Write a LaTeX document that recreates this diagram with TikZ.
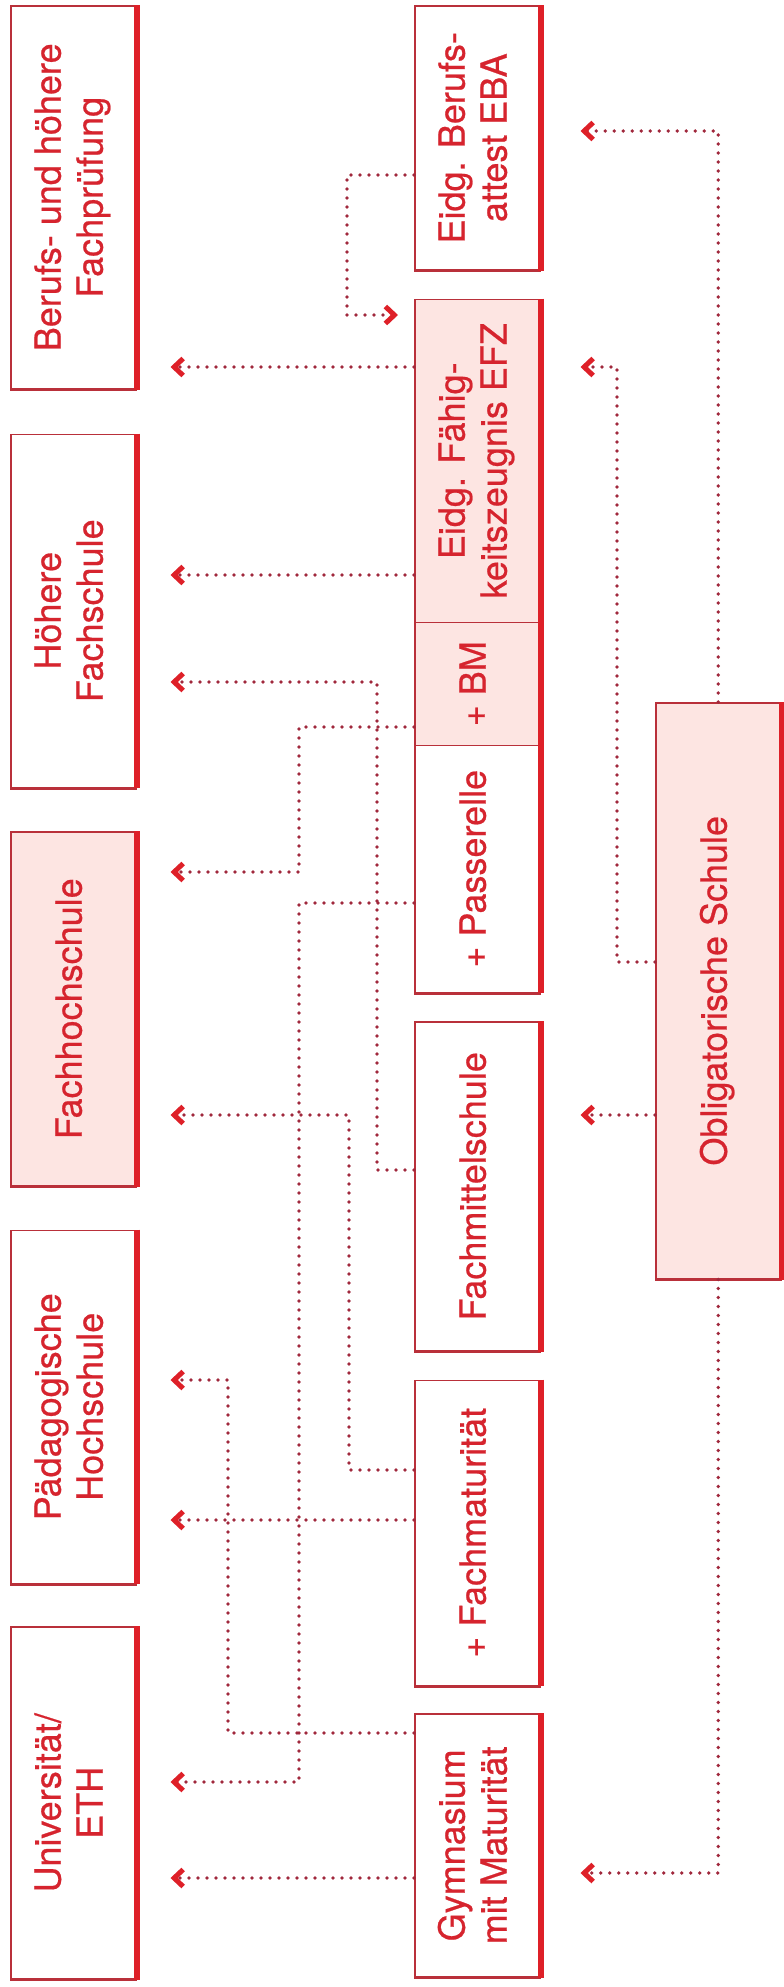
\documentclass[tikz,border=0pt]{standalone}
\usepackage{fontspec}
\setsansfont{TeX Gyre Heros}[FakeBold=0.6]
\usepackage{graphicx}
\usetikzlibrary{positioning, arrows.meta}
\definecolor{ored}{RGB}{222,32,40}
\definecolor{otext}{RGB}{214,36,46}
\definecolor{oframe}{RGB}{185,48,58}
\definecolor{odot}{RGB}{160,40,60}
\definecolor{opink}{RGB}{253,229,226}
\newcommand{\turned}[1]{\rotatebox{90}{\begin{tabular}{@{}c@{}}#1\end{tabular}}}

\begin{document}
\begin{tikzpicture}[x=1pt, y=-1pt, >={Straight Barb[length=9pt, width=17pt, line width=5pt, color=ored]},
	box/.style={draw=oframe, fill=white, line width=1.5pt, text=otext, inner sep=0pt, minimum width=125pt,
		font=\sffamily\fontsize{36}{42}\selectfont,
		append after command={(\tikzlastnode.south west) edge[draw=oframe, line width=3pt] (\tikzlastnode.south east)
			(\tikzlastnode.north east) edge[draw=ored, line width=6pt] (\tikzlastnode.south east)}},
	pbox/.style={box, fill=opink},
	link/.style={->, draw=odot, line width=3.6pt, line cap=round, dash pattern=on 0pt off 9pt, shorten >=34pt}]
		
		\useasboundingbox (0,0) rectangle (784,1987);
		
		\node[box, minimum height=383pt, anchor=north west] (bp) at (10,5) {\turned{Berufs- und höhere\\Fachprüfung}};
		\node[box, minimum height=353pt, below=44pt of bp] (hf) {\turned{Höhere\\Fachschule}};
		\node[pbox, minimum height=354pt, below=43pt of hf] (fh) {\turned{Fachhochschule}};
		\node[box, minimum height=353pt, below=43pt of fh] (ph) {\turned{Pädagogische\\Hochschule}};
		\node[box, minimum height=352pt, below=42pt of ph] (uni) {\turned{Universität/\\ETH}};
		
		\node[box, minimum height=264pt, anchor=north west] (eba) at (414,5) {\turned{Eidg. Berufs-\\attest EBA}};
		\node[pbox, minimum height=323pt, below=28pt of eba] (efz) {\turned{Eidg. Fähig-\\keitszeugnis EFZ}};
		\node[pbox, minimum height=123pt, below=-1.5pt of efz] (bm) {\turned{+ BM}};
		\node[box, minimum height=247pt, below=-1.5pt of bm] (pas) {\turned{+ Passerelle}};
		\node[box, minimum height=329pt, below=28pt of pas] (fms) {\turned{Fachmittelschule}};
		\node[box, minimum height=305pt, below=28pt of fms] (fm) {\turned{+ Fachmaturität}};
		\node[box, minimum height=263pt, below=27pt of fm] (gym) {\turned{Gymnasium\\mit Maturität}};
		
		\node[pbox, minimum height=576pt, anchor=north west] (os) at (655,702) {\turned{Obligatorische Schule}};
		
		\draw[link, shorten >=16pt] (eba.west |- 0,175) -| (347,315) -- (efz.west |- 0,315);
		\draw[link] (efz.west |- 0,367) -- (bp.east |- 0,367);
		\draw[link] (efz.west |- 0,575) -- (hf.east |- 0,575);
		\draw[link] (fms.west |- 0,1170) -| (377,682) -- (hf.east |- 0,682);
		\draw[link] (bm.west |- 0,727) -| (299,872) -- (fh.east |- 0,872);
		\draw[link] (pas.west |- 0,903) -| (299,1782) -- (uni.east |- 0,1782);
		\draw[link] (fm.west |- 0,1470) -| (349,1115) -- (fh.east |- 0,1115);
		\draw[link] (fm.west |- 0,1520) -- (ph.east |- 0,1520);
		\draw[link] (gym.west |- 0,1733) -| (228,1380) -- (ph.east |- 0,1380);
		\draw[link] (gym.west |- 0,1878) -- (uni.east |- 0,1878);
		
		\draw[link, shorten >=40pt] (os.north) |- (eba.east |- 0,131);
		\draw[link, shorten >=40pt] (os.west |- 0,962) -| (617,367) -- (efz.east |- 0,367);
		\draw[link, shorten >=40pt] (os.west |- 0,1115) -- (fms.east |- 0,1115);
		\draw[link, shorten >=40pt] (os.south) |- (gym.east |- 0,1873);
		
\end{tikzpicture}
\end{document}
